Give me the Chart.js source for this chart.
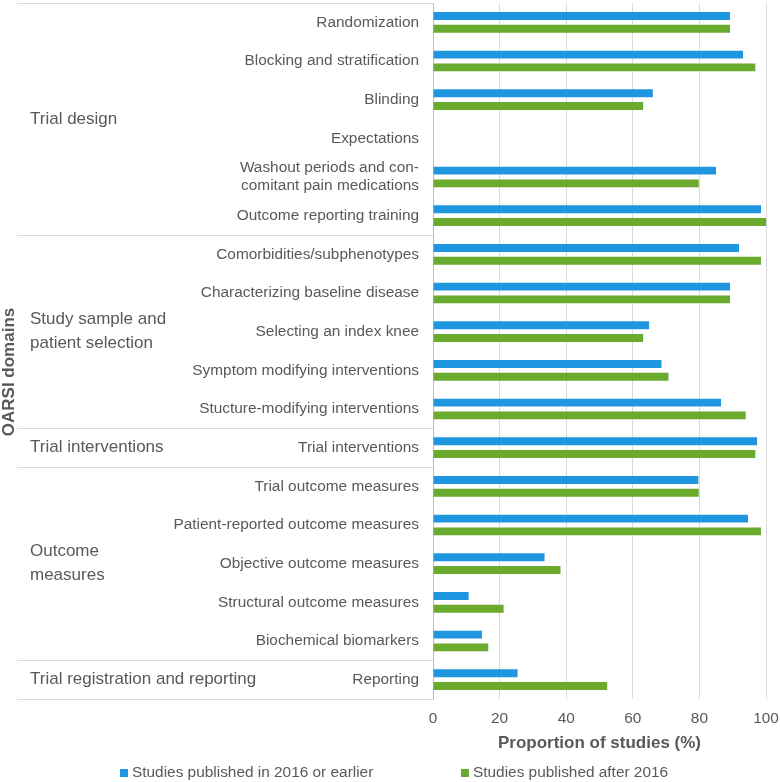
<!DOCTYPE html>
<html>
<head>
<meta charset="utf-8">
<script src="https://cdn.jsdelivr.net/npm/chart.js@4.4.0/dist/chart.umd.min.js"></script>
<style>
  html, body { margin: 0; padding: 0; background: #fff; }
  #wrap { width: 780px; height: 782px; position: relative; }
</style>
</head>
<body>
<div id="wrap"><canvas id="myChart"></canvas></div>
<script>
const categories = [
  'Randomization',
  'Blocking and stratification',
  'Blinding',
  'Expectations',
  ['Washout periods and con-', 'comitant pain medications'],
  'Outcome reporting training',
  'Comorbidities/subphenotypes',
  'Characterizing baseline disease',
  'Selecting an index knee',
  'Symptom modifying interventions',
  'Stucture-modifying interventions',
  'Trial interventions',
  'Trial outcome measures',
  'Patient-reported outcome measures',
  'Objective outcome measures',
  'Structural outcome measures',
  'Biochemical biomarkers',
  'Reporting'
];

const before2016 = [89.2, 93.1, 66.0, 0, 85.0, 98.5, 91.9, 89.2, 64.9, 68.6, 86.5, 97.3, 79.7, 94.6, 33.5, 10.7, 14.7, 25.4];
const after2016  = [89.2, 96.8, 63.1, 0, 79.8, 100, 98.5, 89.2, 63.1, 70.7, 93.9, 96.8, 79.8, 98.5, 38.3, 21.2, 16.6, 52.3];

const seriesNames = ['Studies published in 2016 or earlier', 'Studies published after 2016'];
const seriesColors = ['#1f97e0', '#6aaa2e'];

const groupNames = [
  ['Trial design'],
  ['Study sample and', 'patient selection'],
  ['Trial interventions'],
  ['Outcome', 'measures'],
  ['Trial registration and reporting']
];
const groupSizes = [6, 5, 1, 5, 1];

const xTicks = [0, 20, 40, 60, 80, 100];

const textColor = '#595959';
const lineColor = '#d9d9d9';
const fam = "'Liberation Sans', Arial, sans-serif";
Chart.defaults.font.family = fam;

const groupPlugin = {
  id: 'groups',
  afterDraw(chart) {
    const { ctx, chartArea, scales: { y } } = chart;
    const half = (y.getPixelForValue(1) - y.getPixelForValue(0)) / 2;
    ctx.save();
    ctx.strokeStyle = lineColor;
    ctx.lineWidth = 1;
    ctx.fillStyle = textColor;
    ctx.font = '17px ' + fam;
    ctx.textBaseline = 'middle';
    ctx.textAlign = 'left';

    let start = 0;
    let bottom = 0;
    groupSizes.forEach((size, g) => {
      const top = y.getPixelForValue(start) - half;
      bottom = y.getPixelForValue(start + size - 1) + half;
      ctx.beginPath();
      ctx.moveTo(17, Math.round(top) + 0.5);
      ctx.lineTo(chartArea.left, Math.round(top) + 0.5);
      ctx.stroke();
      const lines = groupNames[g];
      const mid = (top + bottom) / 2;
      lines.forEach((t, i) => {
        ctx.fillText(t, 30, mid + (i - (lines.length - 1) / 2) * 24);
      });
      start += size;
    });
    ctx.beginPath();
    ctx.moveTo(17, Math.round(bottom) + 0.5);
    ctx.lineTo(chartArea.left, Math.round(bottom) + 0.5);
    ctx.stroke();

    // y title
    ctx.save();
    ctx.translate(9, 372);
    ctx.rotate(-Math.PI / 2);
    ctx.textAlign = 'center';
    ctx.font = 'bold 17px ' + fam;
    ctx.fillText('OARSI domains', 0, 0);
    ctx.restore();

    // legend
    ctx.font = '15.4px ' + fam;
    const legendX = [120, 461];
    seriesNames.forEach((name, i) => {
      ctx.fillStyle = seriesColors[i];
      ctx.fillRect(legendX[i], 769, 8, 8);
      ctx.fillStyle = textColor;
      ctx.fillText(name, legendX[i] + 12, 773);
    });
    ctx.restore();
  }
};

new Chart(document.getElementById('myChart'), {
  type: 'bar',
  data: {
    labels: categories,
    datasets: [
      { label: seriesNames[0], data: before2016, backgroundColor: seriesColors[0] },
      { label: seriesNames[1], data: after2016, backgroundColor: seriesColors[1] }
    ]
  },
  options: {
    indexAxis: 'y',
    responsive: true,
    maintainAspectRatio: false,
    animation: false,
    categoryPercentage: 0.66,
    barPercentage: 0.62,
    layout: { padding: { top: 3, right: 14, bottom: 28, left: 0 } },
    plugins: {
      legend: { display: false },
      tooltip: { enabled: false }
    },
    scales: {
      x: {
        min: 0,
        max: 100,
        afterBuildTicks: s => { s.ticks = xTicks.map(v => ({ value: v })); },
        afterFit: s => { s.height = 55; s.paddingLeft = 0; s.paddingRight = 0; },
        grid: { color: lineColor, drawTicks: false },
        border: { display: false },
        ticks: { color: textColor, padding: 11, font: { size: 15.4 } },
        title: {
          display: true,
          text: 'Proportion of studies (%)',
          color: textColor,
          font: { size: 17, weight: 'bold' },
          padding: { top: 4, bottom: 0 }
        }
      },
      y: {
        afterFit: s => { s.width = 433; s.paddingTop = 0; s.paddingBottom = 0; },
        grid: { display: false, drawTicks: false },
        border: { display: true, color: '#bfbfbf' },
        ticks: { color: textColor, padding: 14, font: { size: 15.4 }, autoSkip: false }
      }
    }
  },
  plugins: [groupPlugin]
});
</script>
</body>
</html>
